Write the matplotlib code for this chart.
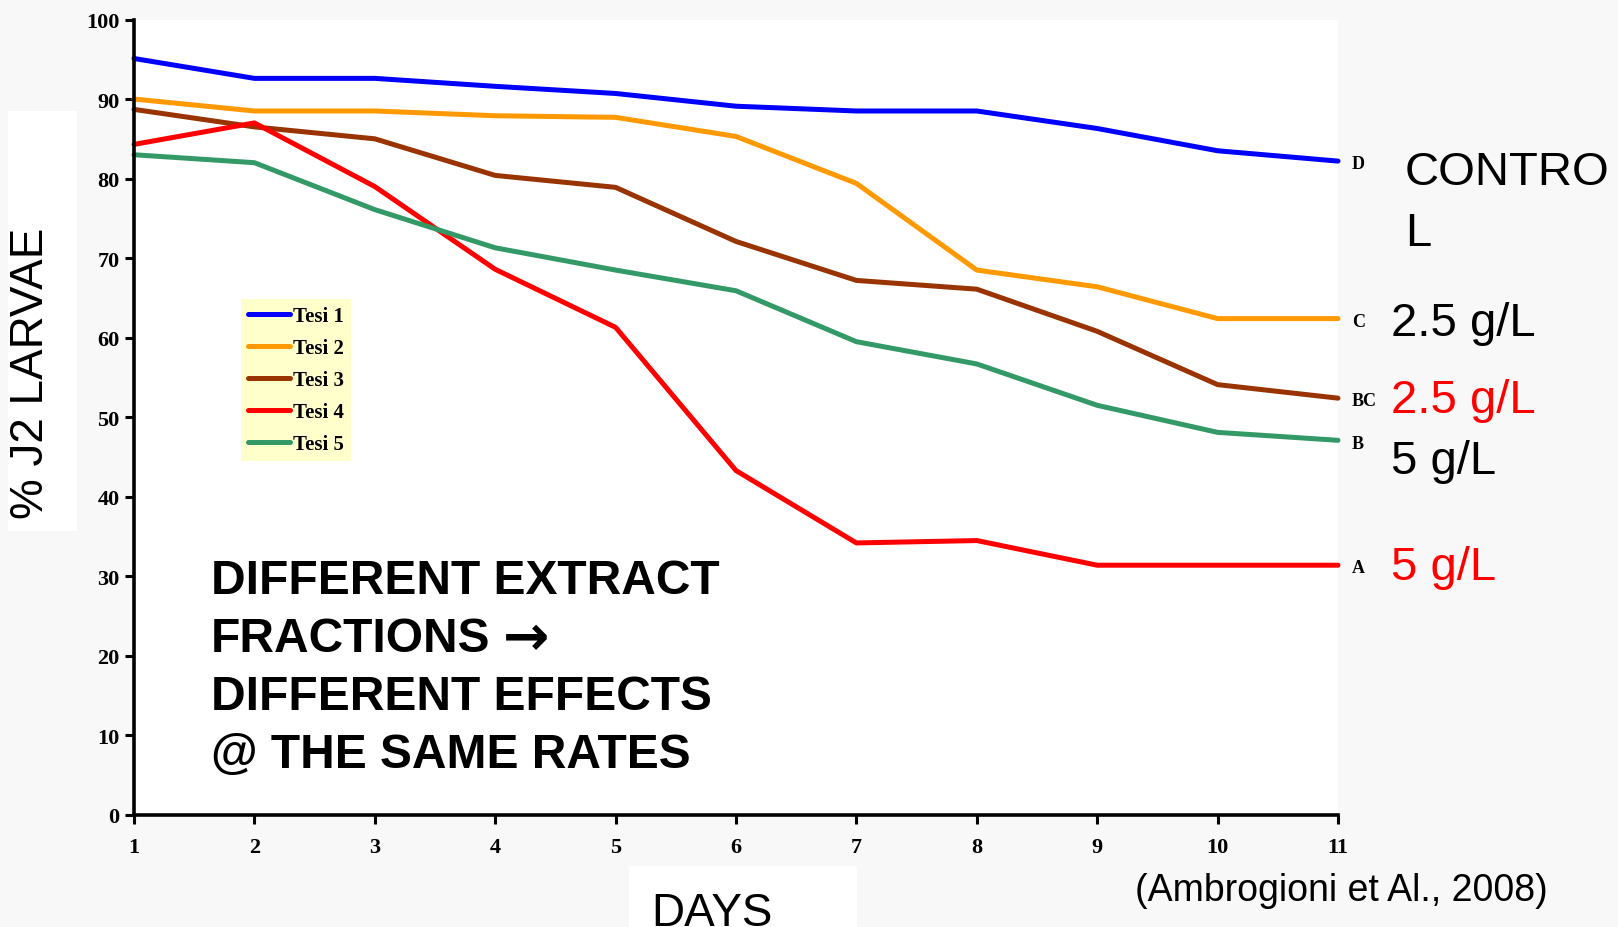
import matplotlib
matplotlib.use("Agg")
import matplotlib.pyplot as plt
from matplotlib.patches import Rectangle

# J2 larvae survival over time, 5 treatments (Tesi 1..5)
days = [1, 2, 3, 4, 5, 6, 7, 8, 9, 10, 11]
tesi1 = [95.1, 92.6, 92.6, 91.6, 90.7, 89.1, 88.5, 88.5, 86.3, 83.5, 82.2]
tesi2 = [90.0, 88.5, 88.5, 87.9, 87.7, 85.3, 79.4, 68.5, 66.4, 62.4, 62.4]
tesi3 = [88.7, 86.5, 85.0, 80.4, 78.9, 72.1, 67.2, 66.1, 60.8, 54.1, 52.4]
tesi4 = [84.3, 87.0, 79.0, 68.6, 61.3, 43.3, 34.2, 34.5, 31.4, 31.4, 31.4]
tesi5 = [83.0, 82.0, 76.1, 71.3, 68.5, 65.9, 59.5, 56.7, 51.5, 48.1, 47.1]
y_ticks = [0, 10, 20, 30, 40, 50, 60, 70, 80, 90, 100]

series_names = ["Tesi 1", "Tesi 2", "Tesi 3", "Tesi 4", "Tesi 5"]
series_colors = ["#0000ff", "#ff9900", "#993300", "#ff0000", "#339966"]
end_letters = ["D", "C", "BC", "B", "A"]   # order matches series below
letter_series = [tesi1, tesi2, tesi3, tesi5, tesi4]

# tick labels: bold Times-like
plt.rcParams["font.family"] = ["Liberation Serif"]
plt.rcParams["font.weight"] = "bold"
plt.rcParams["xtick.labelsize"] = 16
plt.rcParams["ytick.labelsize"] = 16

W, H = 1618, 928
def fx(px):
    return px / W
def fy(py):
    return 1 - py / H

fig = plt.figure(figsize=(W / 100, H / 100), dpi=100)
fig.patch.set_facecolor("#f8f8f8")

# white boxes behind the axis titles
fig.patches.append(Rectangle((fx(8), fy(532)), fx(77) - fx(8), fy(112) - fy(532),
                             transform=fig.transFigure, facecolor="white", edgecolor="none", zorder=0))
fig.patches.append(Rectangle((fx(629), fy(928)), fx(857) - fx(629), fy(867) - fy(928),
                             transform=fig.transFigure, facecolor="white", edgecolor="none", zorder=0))

ax = fig.add_axes([fx(134), fy(816), fx(1338) - fx(134), fy(20.5) - fy(816)])
ax.set_facecolor("white")

for data, name, col in zip([tesi1, tesi2, tesi3, tesi4, tesi5], series_names, series_colors):
    ax.plot(days, data, color=col, lw=3.6, label=name, clip_on=False,
            solid_capstyle="round", solid_joinstyle="round")

ax.set_xlim(1, 11)
ax.set_ylim(0, 100)
ax.set_xticks(days)
ax.set_yticks(y_ticks)
for s in ["top", "right"]:
    ax.spines[s].set_visible(False)
for s in ["left", "bottom"]:
    ax.spines[s].set_linewidth(2.6)

ax.tick_params(axis="both", direction="out", length=6.5, width=2.2, colors="black")
ax.tick_params(axis="y", pad=4)
ax.tick_params(axis="x", pad=9)

leg = ax.legend(loc="upper left", bbox_to_anchor=(fx(241), fy(300)), bbox_transform=fig.transFigure,
                frameon=True, fancybox=False, facecolor="#ffffcc", edgecolor="none", framealpha=1,
                prop={"family": "Liberation Serif", "weight": "bold", "size": 15},
                handlelength=2.0, handletextpad=0.15, labelspacing=0.57, borderpad=0.35,
                borderaxespad=0)

for letter, data in zip(end_letters, letter_series):
    ax.annotate(letter, xy=(days[-1], data[-1]), xytext=(10, -2), textcoords="offset points",
                ha="left", va="center", fontfamily="Liberation Serif", fontweight="bold",
                fontsize=13, annotation_clip=False)

sans = ["Liberation Sans", "DejaVu Sans"]
big = dict(fontsize=34, family=sans, fontweight="normal", va="baseline")
fig.text(fx(1405), fy(185), "CONTRO", **big)
fig.text(fx(1405), fy(246), "L", **big)
fig.text(fx(1391), fy(336), "2.5 g/L", **big)
fig.text(fx(1391), fy(413), "2.5 g/L", color="#ff0000", **big)
fig.text(fx(1391), fy(474), "5 g/L", **big)
fig.text(fx(1391), fy(580), "5 g/L", color="#ff0000", **big)

msg_lines = ["DIFFERENT EXTRACT", "FRACTIONS", "DIFFERENT EFFECTS", "@ THE SAME RATES"]
for i, line in enumerate(msg_lines):
    fig.text(fx(211), fy(594 + i * 58), line, fontsize=34.5, family=sans, fontweight="bold",
             va="baseline")
fig.text(fx(503), fy(594 + 58 + 3), "\u2192", fontsize=40, family="DejaVu Sans", fontweight="bold",
         va="baseline")

fig.text(fx(31), fy(373), "% J2 LARVAE", fontsize=33, family=sans, fontweight="normal",
         rotation=90, ha="center", va="center")
fig.text(fx(712), fy(926), "DAYS", fontsize=33, family=sans, fontweight="normal",
         ha="center", va="baseline")
fig.text(fx(1135), fy(901), "(Ambrogioni et Al., 2008)", fontsize=27, family=sans,
         fontweight="normal", va="baseline")

fig.savefig("out.png", dpi=100, facecolor=fig.get_facecolor())
